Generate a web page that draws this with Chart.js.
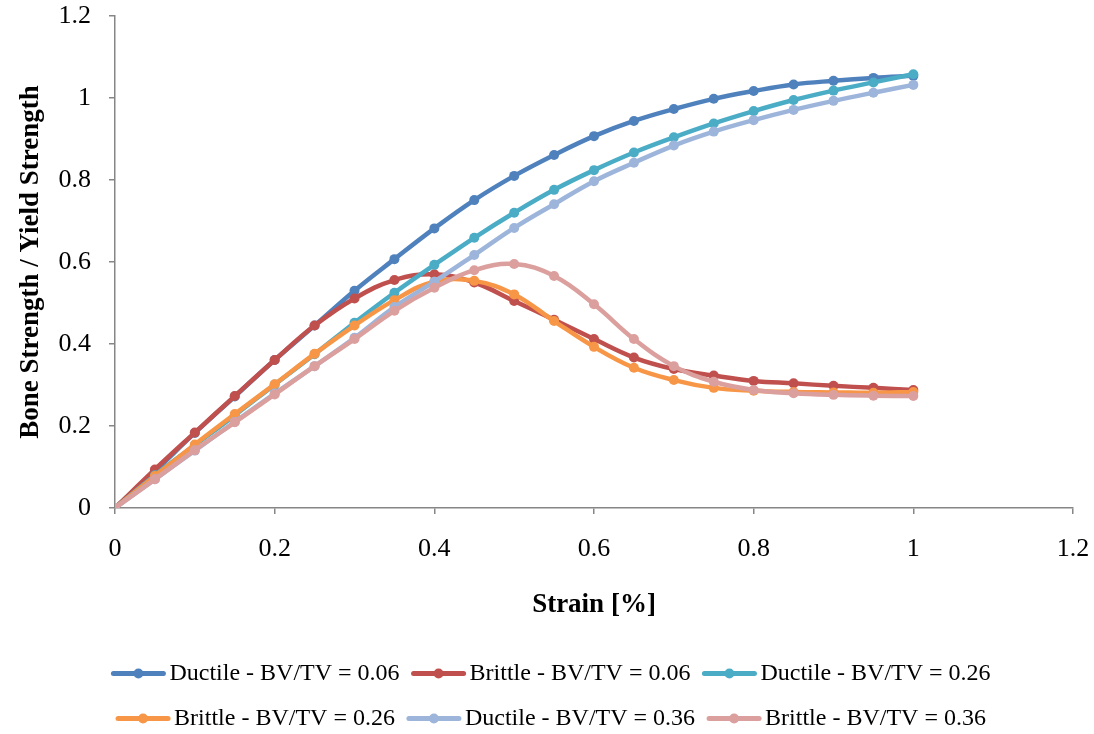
<!DOCTYPE html>
<html>
<head>
<meta charset="utf-8">
<script src="https://cdn.jsdelivr.net/npm/chart.js@4/dist/chart.umd.min.js"></script>
<style>
  html, body { margin: 0; padding: 0; background: #fff; overflow: hidden; }
  #wrap { width: 1094px; height: 734px; }
  canvas { display: block; }
</style>
</head>
<body>
<div id="wrap"><canvas id="strainChart"></canvas></div>
<script>
const strain = [0, 0.05, 0.1, 0.15, 0.2, 0.25, 0.3, 0.35, 0.4, 0.45, 0.5,
                0.55, 0.6, 0.65, 0.7, 0.75, 0.8, 0.85, 0.9, 0.95, 1.0];

const ductile006 = [0, 0.09, 0.183, 0.272, 0.361, 0.445, 0.53, 0.607, 0.682, 0.751, 0.81,
                    0.861, 0.907, 0.944, 0.973, 0.998, 1.017, 1.033, 1.042, 1.049, 1.054];
const brittle006 = [0, 0.094, 0.184, 0.273, 0.361, 0.445, 0.511, 0.556, 0.570, 0.550, 0.505,
                    0.459, 0.412, 0.367, 0.339, 0.323, 0.31, 0.304, 0.298, 0.293, 0.288];
const ductile026 = [0, 0.08, 0.153, 0.226, 0.301, 0.375, 0.452, 0.525, 0.593, 0.659, 0.72,
                    0.776, 0.824, 0.867, 0.904, 0.938, 0.968, 0.995, 1.018, 1.038, 1.058];
const brittle026 = [0, 0.078, 0.155, 0.229, 0.302, 0.376, 0.445, 0.507, 0.552, 0.554, 0.521,
                    0.456, 0.393, 0.342, 0.312, 0.293, 0.286, 0.283, 0.282, 0.281, 0.283];
const ductile036 = [0, 0.07, 0.14, 0.21, 0.279, 0.346, 0.415, 0.49, 0.552, 0.617, 0.683,
                    0.741, 0.797, 0.842, 0.884, 0.918, 0.946, 0.971, 0.993, 1.013, 1.032];
const brittle036 = [0, 0.07, 0.141, 0.209, 0.277, 0.346, 0.412, 0.481, 0.537, 0.58, 0.595,
                    0.566, 0.497, 0.412, 0.346, 0.308, 0.288, 0.28, 0.276, 0.274, 0.273];

const seriesNames = [
    "Ductile - BV/TV = 0.06", "Brittle - BV/TV = 0.06", "Ductile - BV/TV = 0.26",
    "Brittle - BV/TV = 0.26", "Ductile - BV/TV = 0.36", "Brittle - BV/TV = 0.36"
];
const seriesValues = [ductile006, brittle006, ductile026, brittle026, ductile036, brittle036];
const seriesColors = ["#4F81BD", "#C0504D", "#4BACC6", "#F79646", "#9DB5DB", "#DBA09E"];

const axisColor = "#868686";
const serif = "'Liberation Serif', 'Times New Roman', serif";

const datasets = seriesValues.map((vals, i) => ({
    label: seriesNames[i],
    data: vals.map((v, j) => ({ x: strain[j], y: v })),
    borderColor: seriesColors[i],
    backgroundColor: seriesColors[i],
    borderWidth: 4.5,
    pointRadius: 5,
    pointBorderWidth: 0,
    tension: 0.4,
    // later series on top, like the original
    order: seriesValues.length - i
}));

// legend sample: thick line with a dot in the middle
const legendLines = {
    id: "legendLines",
    afterDraw(chart) {
        const legend = chart.legend;
        if (!legend || !legend.legendHitBoxes) return;
        const ctx = chart.ctx;
        legend.legendHitBoxes.forEach((box, k) => {
            const color = seriesColors[legend.legendItems[k].datasetIndex];
            const y = box.top + box.height / 2;
            ctx.save();
            ctx.strokeStyle = color;
            ctx.fillStyle = color;
            ctx.lineWidth = 5;
            ctx.lineCap = "round";
            ctx.beginPath();
            ctx.moveTo(box.left + 2, y);
            ctx.lineTo(box.left + 52, y);
            ctx.stroke();
            ctx.beginPath();
            ctx.arc(box.left + 27, y, 5, 0, Math.PI * 2);
            ctx.fill();
            ctx.restore();
        });
    }
};

new Chart(document.getElementById("strainChart"), {
    type: "line",
    data: { datasets: datasets },
    plugins: [legendLines],
    options: {
        responsive: true,
        maintainAspectRatio: false,
        animation: false,
        layout: { padding: { top: 0, right: 0, left: 8, bottom: -11 } },
        plugins: {
            tooltip: { enabled: false },
            legend: {
                position: "bottom",
                labels: {
                    sort: (a, b) => a.datasetIndex - b.datasetIndex,
                    generateLabels: chart =>
                        Chart.defaults.plugins.legend.labels.generateLabels(chart).map(item => ({
                            ...item,
                            fillStyle: "rgba(0,0,0,0)",
                            strokeStyle: "rgba(0,0,0,0)",
                            lineWidth: 0
                        })),
                    boxWidth: 46,
                    boxHeight: 33,
                    padding: 12,
                    color: "#000",
                    font: { family: serif, size: 24 }
                }
            }
        },
        scales: {
            x: {
                type: "linear",
                min: 0,
                max: 1.2,
                ticks: {
                    stepSize: 0.2,
                    padding: 20,
                    color: "#000",
                    font: { family: serif, size: 26 },
                    callback: v => Number(v.toFixed(1)).toString()
                },
                grid: { drawOnChartArea: false, drawTicks: true, tickLength: 6, color: axisColor, lineWidth: 1.5 },
                border: { color: axisColor, width: 1.5 },
                title: {
                    display: true,
                    text: "Strain [%]",
                    color: "#000",
                    font: { family: serif, size: 27, weight: "bold" },
                    padding: { top: 0, bottom: 24 }
                },
                afterFit: s => { s.height = 137; s.paddingRight = 21; }
            },
            y: {
                min: 0,
                max: 1.2,
                ticks: {
                    stepSize: 0.2,
                    padding: 18,
                    color: "#000",
                    font: { family: serif, size: 26 },
                    callback: v => Number(v.toFixed(1)).toString()
                },
                grid: { drawOnChartArea: false, drawTicks: true, tickLength: 6, color: axisColor, lineWidth: 1.5 },
                border: { color: axisColor, width: 1.5 },
                title: {
                    display: true,
                    text: "Bone Strength / Yield Strength",
                    color: "#000",
                    font: { family: serif, size: 27, weight: "bold" },
                    padding: { top: 7, bottom: 0 }
                },
                afterFit: s => { s.width = 107; s.paddingTop = 16; }
            }
        }
    }
});
</script>
</body>
</html>
